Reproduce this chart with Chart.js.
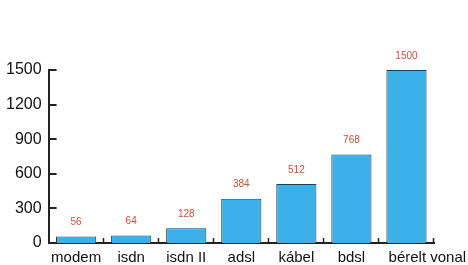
<!DOCTYPE html>
<html>
<head>
<meta charset="utf-8">
<script src="https://cdn.jsdelivr.net/npm/chart.js@4/dist/chart.umd.min.js"></script>
<style>
html,body{margin:0;padding:0;background:#fff;}
#wrap{width:468px;height:265px;position:relative;}
</style>
</head>
<body>
<div id="wrap"><canvas id="c" width="468" height="265"></canvas></div>
<script>
const categories = ["modem", "isdn", "isdn II", "adsl", "kábel", "bdsl", "bérelt vonal"];
const speeds = [56, 64, 128, 384, 512, 768, 1500];
const yTicks = [0, 300, 600, 900, 1200, 1500];

const valueLabels = {
  id: 'valueLabels',
  afterDatasetsDraw(chart) {
    const ctx = chart.ctx;
    const meta = chart.getDatasetMeta(0);
    ctx.save();
    ctx.font = '10px "Liberation Sans", Arial, sans-serif';
    ctx.fillStyle = '#c9503c';
    ctx.textAlign = 'center';
    ctx.textBaseline = 'middle';
    meta.data.forEach((bar, i) => {
      ctx.fillText(String(speeds[i]), bar.x, bar.y - 14);
    });
    ctx.restore();
  }
};

// inward tick marks on both axes
const innerTicks = {
  id: 'innerTicks',
  afterDraw(chart) {
    const ctx = chart.ctx;
    const xs = chart.scales.x, ys = chart.scales.y;
    const area = chart.chartArea;
    ctx.save();
    ctx.strokeStyle = '#222';
    ctx.lineWidth = 2;
    yTicks.forEach(v => {
      const py = Math.round(ys.getPixelForValue(v));
      ctx.beginPath();
      ctx.moveTo(area.left, py);
      ctx.lineTo(area.left + 8, py);
      ctx.stroke();
    });
    ctx.lineWidth = 1.5;
    const n = categories.length;
    for (let i = 0; i < n; i++) {
      let px;
      if (i < n - 1) px = (xs.getPixelForValue(i) + xs.getPixelForValue(i + 1)) / 2;
      else px = area.right;
      px = Math.round(px) - 0.5;
      ctx.beginPath();
      ctx.moveTo(px, area.bottom);
      ctx.lineTo(px, area.bottom - 5);
      ctx.stroke();
    }
    ctx.restore();
  }
};

new Chart(document.getElementById('c'), {
  type: 'bar',
  data: {
    labels: categories,
    datasets: [{
      data: speeds,
      backgroundColor: '#3cb0e8',
      borderColor: '#2a3a44',
      borderWidth: 1,
      categoryPercentage: 0.73,
      barPercentage: 1.0
    }]
  },
  options: {
    responsive: false,
    animation: false,
    devicePixelRatio: 1,
    layout: { padding: { top: 70, right: 34, bottom: -7, left: -1 } },
    plugins: { legend: { display: false }, tooltip: { enabled: false } },
    scales: {
      x: {
        offset: true,
        afterFit(scale) { scale.paddingRight = 0; scale.paddingLeft = 0; },
        grid: { display: false, drawTicks: false, tickLength: 0 },
        border: { display: true, color: '#222', width: 2 },
        ticks: {
          color: '#111',
          padding: 7,
          maxRotation: 0,
          autoSkip: false,
          font: { family: '"Liberation Sans", Arial, sans-serif', size: 15, lineHeight: 1.0 },
          callback: function(v, i) {
            const s = categories[i];
            return i === categories.length - 1 ? '\u2007\u2007\u2007\u2007\u2007' + s : s;
          }
        }
      },
      y: {
        min: 0,
        max: 1500,
        afterBuildTicks(scale) { scale.ticks = yTicks.map(v => ({ value: v })); },
        grid: { display: false, drawTicks: false, tickLength: 0 },
        border: { display: true, color: '#222', width: 2 },
        ticks: {
          color: '#111',
          padding: 7,
          font: { family: '"Liberation Sans", Arial, sans-serif', size: 16 },
          callback: v => String(v)
        }
      }
    }
  },
  plugins: [valueLabels, innerTicks]
});
</script>
</body>
</html>
